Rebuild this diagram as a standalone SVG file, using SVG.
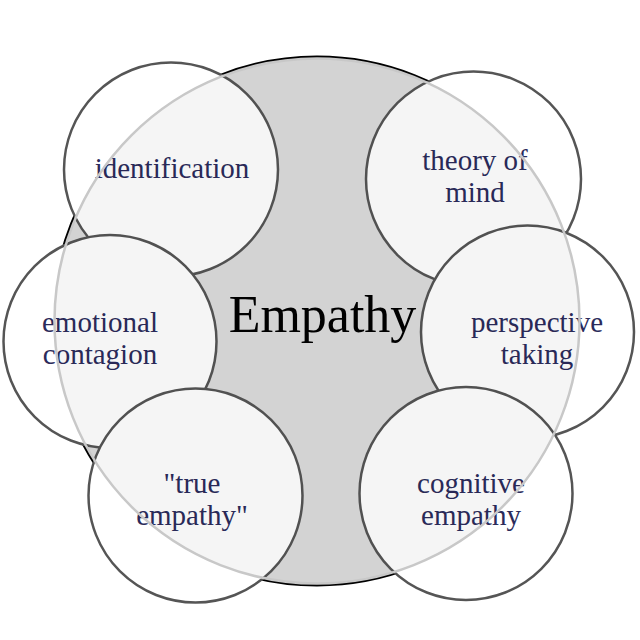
<svg xmlns="http://www.w3.org/2000/svg" width="640" height="640" viewBox="0 0 640 640">
  <style>
    .node { fill: #ffffff; stroke: #555555; stroke-width: 2.5; }
    .lbl { font-family: "Liberation Serif", "Times New Roman", serif; font-size: 29px; fill: #2b2b5b; text-anchor: middle; }
    .title { font-family: "Liberation Serif", "Times New Roman", serif; font-size: 52px; fill: #000000; text-anchor: middle; }
  </style>
  <rect width="640" height="640" fill="#ffffff"/>
  <g id="empathy-back">
    <circle cx="317" cy="321" r="264" fill="#dcdcdc" stroke="#000000" stroke-width="3"/>
  </g>
  <g id="identification">
    <circle class="node" cx="171" cy="169.5" r="107"/>
    <text class="lbl" x="172" y="178">identification</text>
  </g>
  <g id="theory-of-mind">
    <circle class="node" cx="473.5" cy="179" r="107.5"/>
    <text class="lbl" x="475" y="170">theory of</text>
    <text class="lbl" x="475" y="202">mind</text>
  </g>
  <g id="perspective-taking">
    <circle class="node" cx="527.5" cy="332" r="106.5"/>
    <text class="lbl" x="537" y="332">perspective</text>
    <text class="lbl" x="537" y="364">taking</text>
  </g>
  <g id="emotional-contagion">
    <circle class="node" cx="110" cy="341.5" r="106.5"/>
    <text class="lbl" x="100" y="332">emotional</text>
    <text class="lbl" x="100" y="364">contagion</text>
  </g>
  <g id="true-empathy">
    <circle class="node" cx="195.5" cy="495.5" r="107"/>
    <text class="lbl" x="192" y="493">"true</text>
    <text class="lbl" x="192" y="525">empathy"</text>
  </g>
  <g id="cognitive-empathy">
    <circle class="node" cx="466" cy="493.5" r="106.5"/>
    <text class="lbl" x="471" y="493">cognitive</text>
    <text class="lbl" x="471" y="525">empathy</text>
  </g>
  <g id="empathy">
    <circle cx="317" cy="321" r="262.5" fill="#000000" fill-opacity="0.04" stroke="#c8c8c8" stroke-width="2.5"/>
    <text class="title" x="322.5" y="332">Empathy</text>
  </g>
</svg>
